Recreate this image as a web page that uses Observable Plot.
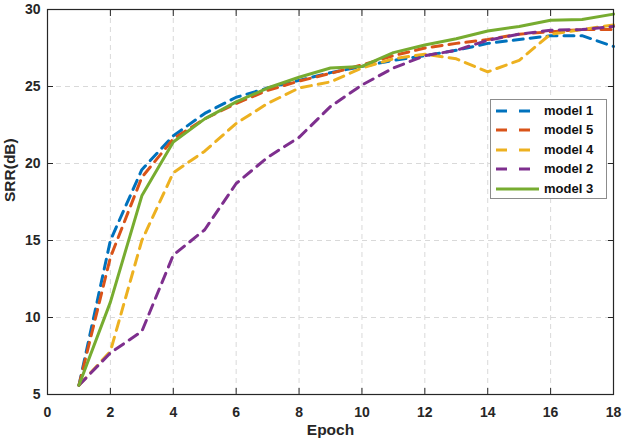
<!DOCTYPE html>
<html>
<head>
<meta charset="utf-8">
<script src="https://cdn.jsdelivr.net/npm/d3@7"></script>
<script src="https://cdn.jsdelivr.net/npm/@observablehq/plot@0.6"></script>
<style>
  body { margin: 0; background: #fff; font-family: Arial, "Liberation Sans", sans-serif; }
  #wrap { position: relative; width: 625px; height: 447px; }
  #legend { position: absolute; left: 490px; top: 99px; width: 115px; height: 98px;
    border: 1px solid #8c8c8c; background: #fff; box-sizing: content-box; }
  .row { position: absolute; left: 0; height: 20px; width: 115px; }
  .row svg { position: absolute; left: 4px; top: 0; }
  .row span { position: absolute; left: 53px; top: 2px; font: bold 13px Arial, "Liberation Sans", sans-serif; color: #111; }
</style>
</head>
<body>
<div id="wrap"><div id="chart"></div><div id="legend"></div></div>
<script>
const epochs = [1,2,3,4,5,6,7,8,9,10,11,12,13,14,15,16,17,18];
const model1 = [5.6,15.0,19.6,21.8,23.25,24.3,24.9,25.4,25.9,26.3,26.7,27.0,27.35,27.8,28.05,28.3,28.3,27.6];
const model5 = [5.6,13.9,19.1,21.6,22.9,23.9,24.75,25.35,25.85,26.4,27.0,27.5,27.8,28.05,28.4,28.55,28.7,28.7];
const model4 = [5.6,7.8,15.0,19.4,20.8,22.6,23.9,24.9,25.3,26.2,26.8,27.1,26.8,25.95,26.7,28.4,28.7,29.0];
const model2 = [5.6,7.7,9.1,14.05,15.7,18.7,20.4,21.7,23.7,25.1,26.2,27.0,27.35,28.0,28.4,28.65,28.7,28.9];
const model3 = [5.6,11.0,17.9,21.4,22.9,24.0,24.9,25.6,26.2,26.3,27.2,27.7,28.1,28.6,28.9,29.3,29.35,29.7];
const seriesNames = ["model 1","model 5","model 4","model 2","model 3"];
const seriesColors = ["#0072BD","#D95319","#EDB120","#7E2F8E","#77AC30"];
const seriesDash = ["10,7","10,7","10,7","10,7",null];
const xTicks = [0,2,4,6,8,10,12,14,16,18];
const yTicks = [5,10,15,20,25,30];

const allValues = [model1, model5, model4, model2, model3];
const rows = [];
allValues.forEach((vals, i) => vals.forEach((v, j) => rows.push({epoch: epochs[j], value: v, series: seriesNames[i]})));

const lineMarks = seriesNames.map((name, i) => Plot.line(rows.filter(r => r.series === name), {
  x: "epoch", y: "value", stroke: seriesColors[i], strokeWidth: 3,
  strokeDasharray: seriesDash[i] ?? undefined, strokeLinejoin: "round"
}));

const chart = Plot.plot({
  width: 625, height: 447,
  marginLeft: 47, marginRight: 12, marginTop: 9, marginBottom: 53,
  style: {fontFamily: "Arial, 'Liberation Sans', sans-serif", fontSize: "14px", fontWeight: "bold", color: "#262626", background: "#fff"},
  x: {domain: [0, 18]},
  y: {domain: [5, 30]},
  marks: [
    Plot.gridX(xTicks, {stroke: "#d9d9d9", strokeOpacity: 1, strokeDasharray: "5,4"}),
    Plot.gridY(yTicks, {stroke: "#d9d9d9", strokeOpacity: 1, strokeDasharray: "5,4"}),
    Plot.axisX(xTicks, {tickSize: 0, tickPadding: 13, label: null, fontSize: 14, fontWeight: "bold"}),
    Plot.axisY(yTicks, {tickSize: 0, tickPadding: 7, label: null, fontSize: 14, fontWeight: "bold"}),
    Plot.axisX(xTicks, {anchor: "bottom", tickSize: 6, dy: -6, tickFormat: () => "", label: null, stroke: "#262626"}),
    Plot.axisX(xTicks, {anchor: "top", tickSize: 6, dy: 6, tickFormat: () => "", label: null, stroke: "#262626"}),
    Plot.axisY(yTicks, {anchor: "left", tickSize: 6, dx: 6, tickFormat: () => "", label: null, stroke: "#262626"}),
    Plot.axisY(yTicks, {anchor: "right", tickSize: 6, dx: -6, tickFormat: () => "", label: null, stroke: "#262626"}),
    ...lineMarks,
    Plot.frame({stroke: "#262626", strokeWidth: 1.2}),
    Plot.text(["Epoch"], {frameAnchor: "bottom", dy: 40, text: d => d, fontSize: 15.5, fontWeight: "bold", fill: "#262626"}),
    Plot.text(["SRR(dB)"], {frameAnchor: "left", dx: -37, rotate: -90, text: d => d, fontSize: 15.5, fontWeight: "bold", fill: "#262626"})
  ]
});
document.getElementById("chart").appendChild(chart);

const legend = document.getElementById("legend");
seriesNames.forEach((name, i) => {
  const row = document.createElement("div");
  row.className = "row";
  row.style.top = (1 + i * 19.4) + "px";
  row.innerHTML = `<svg width="46" height="20"><line x1="1" x2="44" y1="10" y2="10" stroke="${seriesColors[i]}" stroke-width="3" ${seriesDash[i] ? `stroke-dasharray="11,12"` : ""}/></svg><span>${name}</span>`;
  legend.appendChild(row);
});
</script>
</body>
</html>
